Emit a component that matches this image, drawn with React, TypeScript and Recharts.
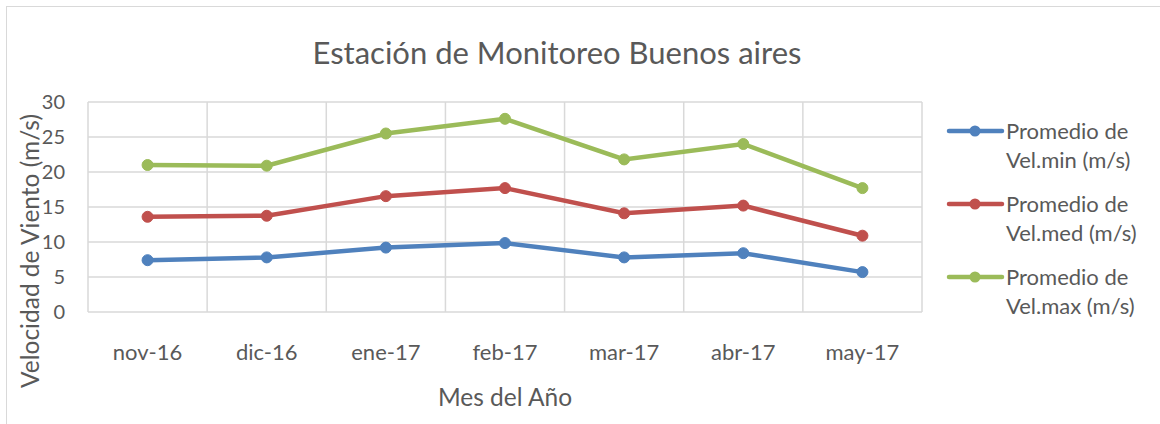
import { CartesianGrid, Label, Line, LineChart, XAxis, YAxis } from "recharts";

const months = ["nov-16", "dic-16", "ene-17", "feb-17", "mar-17", "abr-17", "may-17"];
const velMin = [7.4, 7.8, 9.2, 9.85, 7.8, 8.4, 5.7];
const velMed = [13.6, 13.75, 16.55, 17.7, 14.1, 15.2, 10.9];
const velMax = [21.0, 20.9, 25.5, 27.6, 21.8, 24.0, 17.7];
const yTicks = [0, 5, 10, 15, 20, 25, 30];

const seriesInfo = [
  { key: "min", line1: "Promedio de", line2: "Vel.min (m/s)", color: "#4f81bd" },
  { key: "med", line1: "Promedio de", line2: "Vel.med (m/s)", color: "#c0504d" },
  { key: "max", line1: "Promedio de", line2: "Vel.max (m/s)", color: "#9bbb59" },
];

const data = months.map((m, i) => ({ month: m, min: velMin[i], med: velMed[i], max: velMax[i] }));

const FONT = "Lato, 'Open Sans', sans-serif";
const TEXT = "#595959";
const GRID = "#d9d9d9";

const W = 1160;
const H = 424;
const M = { top: 102, right: 238, bottom: 72, left: 48 };
const Y_W = 40;
// half a category band, so points sit in the middle of each gridded cell
const plotW = W - M.left - M.right - Y_W;
const halfBand = plotW / months.length / 2;

function LegendBox() {
  return (
    <div
      style={{
        position: "absolute",
        left: 945,
        top: 116,
        fontFamily: FONT,
        color: TEXT,
        fontSize: 22,
        lineHeight: "29px",
      }}
    >
      {seriesInfo.map((s) => (
        <div key={s.key} style={{ display: "flex", alignItems: "flex-start", marginBottom: 15 }}>
          <svg width={61} height={29} style={{ flexShrink: 0 }}>
            <line x1={4} y1={15} x2={57} y2={15} stroke={s.color} strokeWidth={4.5} strokeLinecap="round" />
            <circle cx={30} cy={15} r={5.5} fill={s.color} />
          </svg>
          <div>
            <div>{s.line1}</div>
            <div>{s.line2}</div>
          </div>
        </div>
      ))}
    </div>
  );
}

export default function App() {
  return (
    <div style={{ position: "absolute", left: 0, top: 0, width: W, height: H, overflow: "hidden", background: "#fff" }}>
      <div
        style={{
          position: "absolute",
          left: 6,
          top: 6,
          width: 1170,
          height: 430,
          border: `1.5px solid ${GRID}`,
        }}
      />
      <div
        style={{
          position: "absolute",
          left: 0,
          top: 33,
          width: 1114,
          textAlign: "center",
          fontFamily: FONT,
          fontSize: 31,
          color: TEXT,
          whiteSpace: "nowrap",
        }}
      >
        Estación de Monitoreo Buenos aires
      </div>
      <LineChart width={W} height={H} data={data} margin={M} style={{ position: "absolute", left: 0, top: 0 }}>
        <CartesianGrid
          stroke={GRID}
          strokeWidth={1.5}
          horizontalValues={yTicks}
          verticalCoordinatesGenerator={({ offset }: any) =>
            months.map((_, i) => offset.left + (i * offset.width) / months.length).concat(offset.left + offset.width)
          }
        />
        <XAxis
          dataKey="month"
          axisLine={false}
          tickLine={false}
          tickSize={0}
          tickMargin={32}
          height={40}
          padding={{ left: halfBand, right: halfBand }}
          interval={0}
          tick={{ fill: TEXT, fontFamily: FONT, fontSize: 22 }}
        >
          <Label value="Mes del Año" position="insideBottom" offset={-54} style={{ fill: TEXT, fontFamily: FONT, fontSize: 24.5 }} />
        </XAxis>
        <YAxis
          domain={[0, 30]}
          ticks={yTicks}
          axisLine={false}
          tickLine={false}
          tickSize={0}
          tickMargin={23}
          width={Y_W}
          interval={0}
          tick={{ fill: TEXT, fontFamily: FONT, fontSize: 20 }}
        >
          <Label
            content={() => (
              <text
                x={29}
                y={251}
                transform="rotate(-90, 29, 251)"
                textAnchor="middle"
                dominantBaseline="central"
                style={{ fill: TEXT, fontFamily: FONT, fontSize: 24.5 }}
              >
                Velocidad de Viento (m/s)
              </text>
            )}
          />
        </YAxis>
        {seriesInfo.map((s) => (
          <Line
            key={s.key}
            type="linear"
            dataKey={s.key}
            stroke={s.color}
            strokeWidth={4.5}
            dot={{ r: 5.5, fill: s.color, stroke: s.color, strokeWidth: 1 }}
            isAnimationActive={false}
          />
        ))}
      </LineChart>
      <LegendBox />
    </div>
  );
}
